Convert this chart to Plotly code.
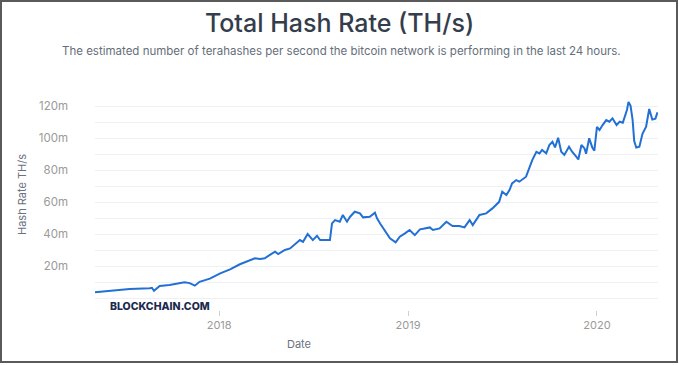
import plotly.graph_objects as go

dates = [
    "2017-05-06", "2017-06-04", "2017-07-12", "2017-08-20", "2017-08-24", "2017-08-28",
    "2017-09-08", "2017-09-27", "2017-10-17", "2017-10-26", "2017-11-05", "2017-11-15",
    "2017-11-24", "2017-12-14", "2018-01-03", "2018-01-22", "2018-02-10", "2018-03-01",
    "2018-03-11", "2018-03-21", "2018-03-30", "2018-04-09", "2018-04-19", "2018-04-25",
    "2018-05-08", "2018-05-18", "2018-05-27", "2018-06-06", "2018-06-12", "2018-06-21",
    "2018-07-01", "2018-07-09", "2018-07-15", "2018-08-03", "2018-08-07", "2018-08-13",
    "2018-08-22", "2018-08-28", "2018-09-05", "2018-09-11", "2018-09-20", "2018-09-30",
    "2018-10-06", "2018-10-19", "2018-10-29", "2018-11-02", "2018-11-08", "2018-11-17",
    "2018-11-27", "2018-12-08", "2018-12-16", "2018-12-26", "2019-01-04", "2019-01-14",
    "2019-01-24", "2019-02-02", "2019-02-12", "2019-02-18", "2019-03-03", "2019-03-16",
    "2019-03-28", "2019-04-10", "2019-04-20", "2019-04-30", "2019-05-06", "2019-05-19",
    "2019-06-01", "2019-06-13", "2019-06-26", "2019-07-02", "2019-07-10", "2019-07-16",
    "2019-07-21", "2019-07-29", "2019-08-04", "2019-08-17", "2019-08-23", "2019-08-29",
    "2019-09-06", "2019-09-12", "2019-09-17", "2019-09-25", "2019-10-01", "2019-10-07",
    "2019-10-12", "2019-10-18", "2019-10-24", "2019-10-30", "2019-11-08", "2019-11-14",
    "2019-11-22", "2019-11-26", "2019-12-02", "2019-12-08", "2019-12-11", "2019-12-17",
    "2019-12-23", "2019-12-27", "2020-01-01", "2020-01-06", "2020-01-12", "2020-01-19",
    "2020-01-25", "2020-01-31", "2020-02-08", "2020-02-14", "2020-02-20", "2020-02-28",
    "2020-03-02", "2020-03-06", "2020-03-10", "2020-03-13", "2020-03-17", "2020-03-23",
    "2020-03-29", "2020-04-05", "2020-04-11", "2020-04-17", "2020-04-23", "2020-04-27",
]

# hash rate in millions of TH/s
hash_rate_m = [
    3.6, 4.5, 5.6, 6.1, 6.4, 4.5,
    7.5, 8.1, 9.1, 9.8, 9.3, 7.7,
    10.1, 12.1, 15.4, 17.9, 21.1, 23.3,
    24.8, 24.4, 24.8, 26.9, 28.9, 27.5,
    30.0, 31.0, 33.5, 36.2, 35.1, 40.0,
    36.2, 38.9, 36.2, 36.2, 46.6, 48.7,
    47.7, 51.9, 47.7, 50.8, 53.9, 52.9,
    50.4, 50.8, 53.3, 49.8, 46.6, 42.5,
    37.3, 34.8, 38.3, 40.4, 42.5, 39.3,
    42.9, 43.5, 44.1, 42.5, 43.5, 47.7,
    45.0, 45.0, 44.1, 48.7, 45.6, 51.9,
    52.9, 56.0, 60.1, 66.4, 64.4, 67.5,
    71.6, 73.7, 72.7, 75.8, 81.0, 86.2,
    91.4, 90.4, 92.5, 90.4, 95.6, 97.6,
    94.1, 100.1, 91.4, 89.4, 94.6, 91.4,
    88.3, 86.6, 95.6, 93.5, 90.1, 99.8,
    94.1, 92.1, 107.0, 105.0, 108.1, 111.2,
    110.2, 112.3, 108.1, 110.2, 109.6, 117.5,
    122.6, 120.1, 111.2, 98.1, 94.1, 94.6,
    102.6, 107.1, 118.1, 111.5, 112.1, 116.1,
]

y_tick_vals_m = [0, 10, 20, 30, 40, 50, 60, 70, 80, 90, 100, 110, 120, 130]
y_tick_text = ["", "", "20m", "", "40m", "", "60m", "", "80m", "", "100m", "", "120m", ""]
x_tick_vals = ["2018-01-01", "2019-01-01", "2020-01-01"]
x_tick_text = ["2018", "2019", "2020"]

title_text = "Total Hash Rate (TH/s)"
subtitle_text = "The estimated number of terahashes per second the bitcoin network is performing in the last 24 hours."

W, H = 679, 365
L, R, T, B = 95, 21, 90, 55
pw, ph = W - L - R, H - T - B


def px(x):
    return (x - L) / pw


def py(y):
    return (H - B - y) / ph


fig = go.Figure()
fig.add_trace(go.Scatter(
    x=dates,
    y=[v * 1e6 for v in hash_rate_m],
    mode="lines",
    line=dict(color="#2270d4", width=2),
    hoverinfo="skip",
))

fig.update_layout(
    width=W, height=H,
    margin=dict(l=L, r=R, t=T, b=B),
    paper_bgcolor="white",
    plot_bgcolor="white",
    showlegend=False,
    font=dict(family="Inter", color="#999"),
    title=dict(
        text=title_text,
        x=0.5, xref="container", xanchor="center",
        y=1 - 23 / H, yref="container", yanchor="middle",
        font=dict(family="Inter", size=25, color="#333d4b", weight=500),
    ),
    xaxis=dict(
        type="date",
        range=["2017-05-06", "2020-04-28"],
        tickvals=x_tick_vals,
        ticktext=x_tick_text,
        showgrid=False,
        zeroline=False,
        showline=False,
        ticks="outside",
        ticklen=5,
        tickwidth=1,
        tickcolor="#cfcfcf",
        tickfont=dict(family="Inter", size=11, color="#9a9a9a"),
    ),
    yaxis=dict(
        range=[-7.5e6, 130e6],
        tickvals=[v * 1e6 for v in y_tick_vals_m],
        ticktext=y_tick_text,
        showgrid=True,
        gridcolor="#eef0f3",
        gridwidth=1,
        zeroline=False,
        showline=False,
        ticks="",
        ticklabelstandoff=26,
        tickfont=dict(family="Inter", size=11.5, color="#9a9a9a"),
    ),
)

annotations = [
    dict(text=subtitle_text, x=px(341), xref="paper", y=py(51), yref="paper",
         xanchor="center", yanchor="middle", showarrow=False,
         font=dict(family="Inter", size=11.5, color="#666e7a")),
    dict(text="Hash Rate TH/s", x=px(22), xref="paper", y=py(195), yref="paper",
         xanchor="center", yanchor="middle", textangle=-90, showarrow=False,
         font=dict(family="Inter", size=11, color="#6b7280")),
    dict(text="Date", x=px(299), xref="paper", y=py(344), yref="paper",
         xanchor="center", yanchor="middle", showarrow=False,
         font=dict(family="Inter", size=11, color="#6b7280")),
    dict(text="BLOCKCHAIN.COM", x=px(108), xref="paper", y=py(306), yref="paper",
         xanchor="left", yanchor="middle", showarrow=False,
         font=dict(family="Inter", size=10.5, color="#1b2a4e", weight=800)),
]
fig.update_layout(annotations=annotations)

fig.add_shape(type="rect", xref="paper", yref="paper",
              x0=px(1), x1=px(677), y0=py(362), y1=py(1),
              line=dict(color="#5a5a5a", width=2), fillcolor="rgba(0,0,0,0)", layer="above")

fig.write_html("out.html")
